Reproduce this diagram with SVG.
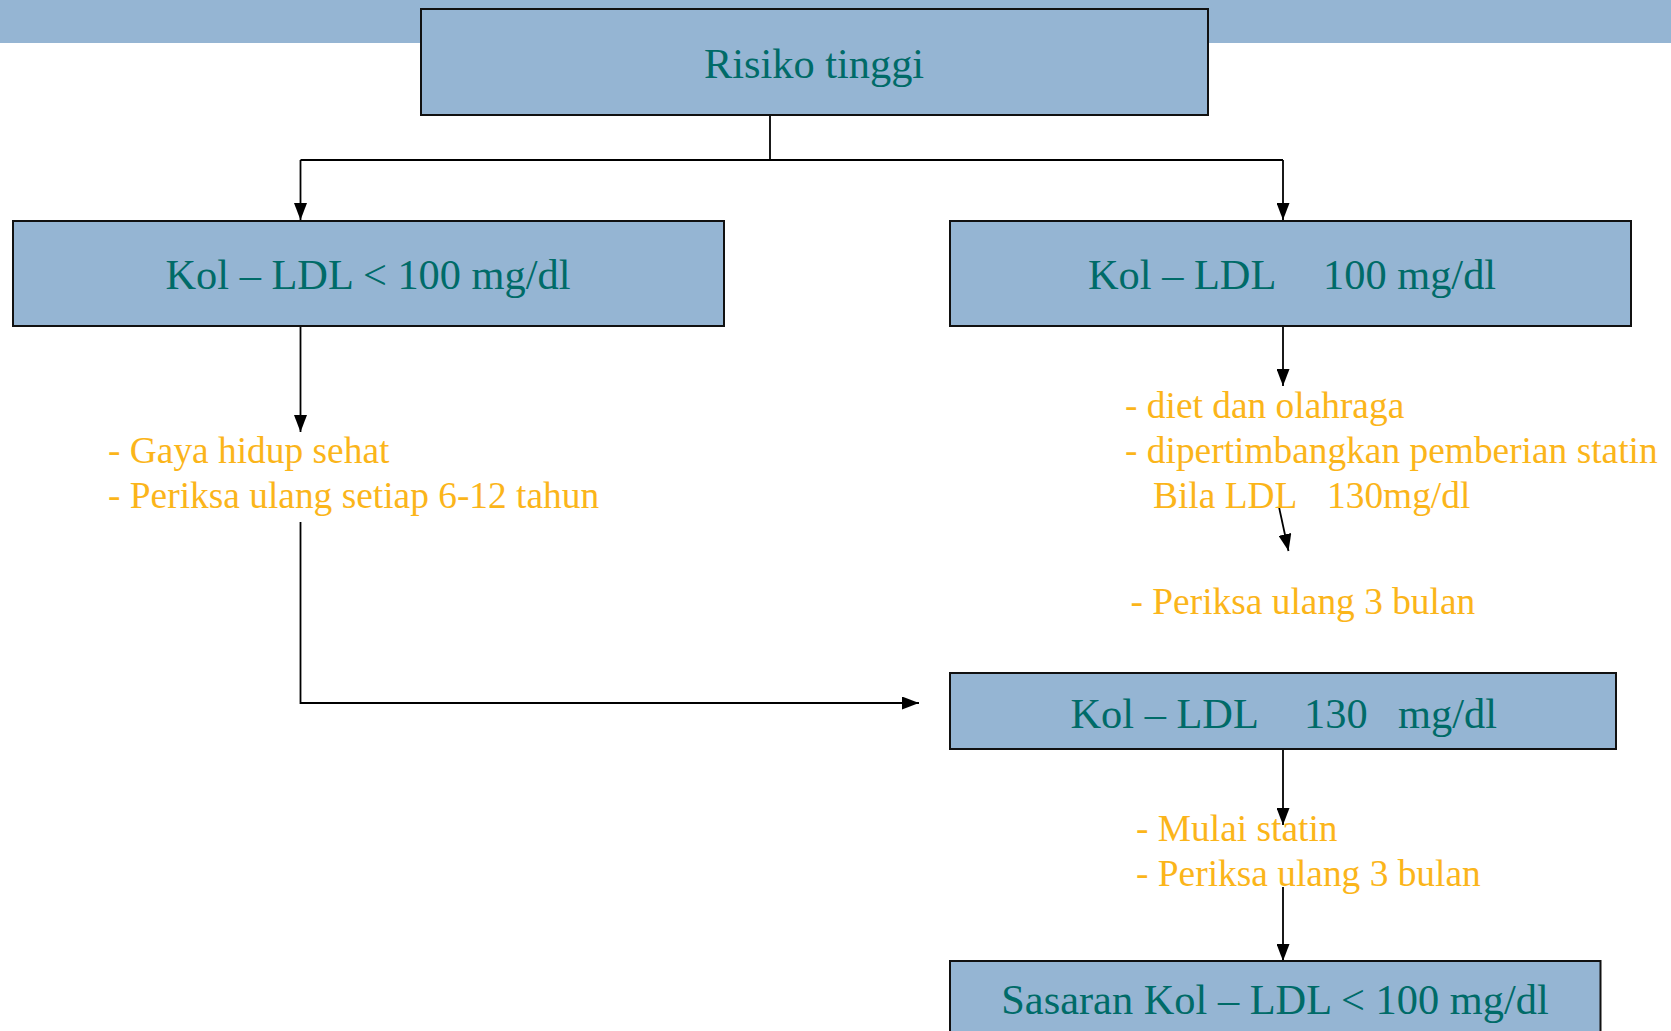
<svg xmlns="http://www.w3.org/2000/svg" width="1671" height="1031" viewBox="0 0 1671 1031">
<defs>
<style>
.box{fill:#95b5d3;stroke:#111;stroke-width:2}
.bt{font-family:"Liberation Serif","Times New Roman",serif;font-size:42.4px;fill:#006b68}
.ot{font-family:"Liberation Serif","Times New Roman",serif;font-size:37.4px;fill:#fbb51a}
.c{fill:none;stroke:#000;stroke-width:1.8}
</style>
<marker id="ah" viewBox="0 0 17 13" refX="17" refY="6.5" markerWidth="17" markerHeight="13" markerUnits="userSpaceOnUse" orient="auto">
<path d="M0,0 L17,6.5 L0,13 z" fill="#000"/>
</marker>
</defs>
<rect width="1671" height="1031" fill="#fff"/>
<rect x="0" y="0" width="1671" height="43" fill="#95b5d3"/>

<g id="connectors">
<path class="c" d="M770,115 V160"/>
<path class="c" d="M300.5,160 H1283"/>
<path class="c" d="M300.5,160 V220" marker-end="url(#ah)"/>
<path class="c" d="M1283,160 V220" marker-end="url(#ah)"/>
<path class="c" d="M300.5,326 V432" marker-end="url(#ah)"/>
<path class="c" d="M1283,326 V386" marker-end="url(#ah)"/>
<path class="c" d="M1279,507 L1288.5,551" marker-end="url(#ah)"/>
<path class="c" d="M300.5,522 V703 H919" marker-end="url(#ah)"/>
<path class="c" d="M1283,749 V825" marker-end="url(#ah)"/>
<path class="c" d="M1283,887 V961" marker-end="url(#ah)"/>
</g>

<g id="risiko-tinggi">
<rect class="box" x="421" y="9" width="787" height="106"/>
<text class="bt" x="814" y="78" text-anchor="middle">Risiko tinggi</text>
</g>

<g id="ldl-lt-100">
<rect class="box" x="13" y="221" width="711" height="105"/>
<text class="bt" x="368" y="289" text-anchor="middle">Kol – LDL &lt; 100 mg/dl</text>
</g>

<g id="ldl-ge-100">
<rect class="box" x="950" y="221" width="681" height="105"/>
<text class="bt" y="289"><tspan x="1088">Kol – LDL</tspan><tspan x="1323">100 mg/dl</tspan></text>
</g>

<g id="note-left">
<text class="ot" x="108" y="463">- Gaya hidup sehat</text>
<text class="ot" x="108" y="508">- Periksa ulang setiap 6-12 tahun</text>
</g>

<g id="note-right">
<text class="ot" x="1125" y="418">- diet dan olahraga</text>
<text class="ot" x="1125" y="463">- dipertimbangkan pemberian statin</text>
<text class="ot" y="508"><tspan x="1153">Bila LDL</tspan><tspan x="1327">130mg/dl</tspan></text>
</g>

<g id="note-periksa-3">
<text class="ot" x="1130.5" y="614">- Periksa ulang 3 bulan</text>
</g>

<g id="ldl-ge-130">
<rect class="box" x="950" y="673" width="666" height="76"/>
<text class="bt" y="728"><tspan x="1070.5">Kol – LDL</tspan><tspan x="1304">130</tspan><tspan x="1398">mg/dl</tspan></text>
</g>

<g id="note-statin">
<text class="ot" x="1136" y="841">- Mulai statin</text>
<text class="ot" x="1136" y="886">- Periksa ulang 3 bulan</text>
</g>

<g id="sasaran">
<rect class="box" x="950" y="961" width="650.5" height="80"/>
<text class="bt" x="1275" y="1014" text-anchor="middle">Sasaran Kol – LDL &lt; 100 mg/dl</text>
</g>
</svg>
